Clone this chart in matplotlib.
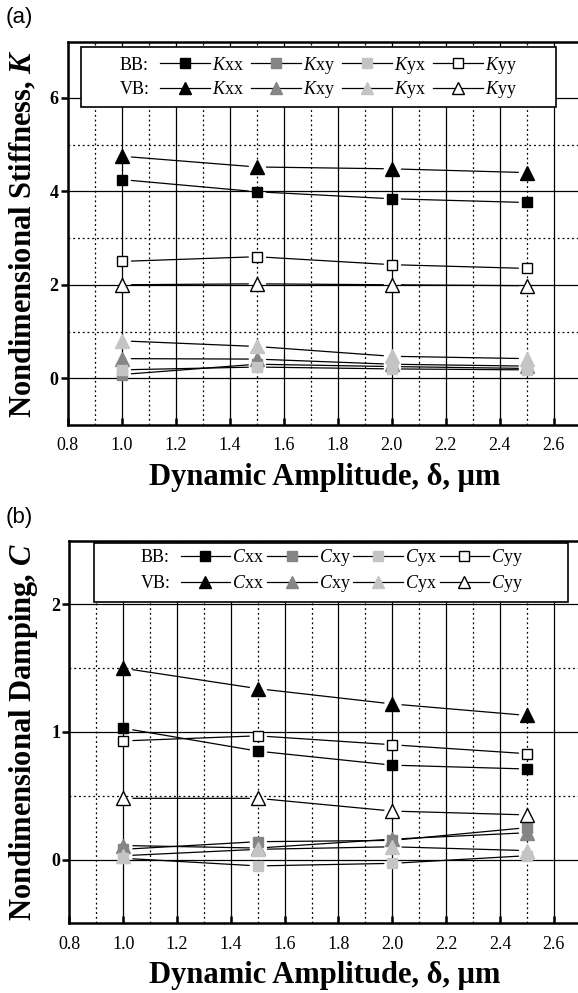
import matplotlib
matplotlib.use("Agg")
import matplotlib.pyplot as plt
from matplotlib.lines import Line2D
from matplotlib.legend import Legend
from matplotlib.patches import Rectangle
from matplotlib.ticker import MultipleLocator, FixedLocator, FormatStrFormatter

plt.rcParams['font.family'] = ['Liberation Serif', 'DejaVu Serif']
plt.rcParams['mathtext.fontset'] = 'custom'
plt.rcParams['mathtext.rm'] = 'Liberation Serif'
plt.rcParams['mathtext.it'] = 'Liberation Serif:italic'
plt.rcParams['mathtext.bf'] = 'Liberation Serif:bold:italic'

# ---------------- data ----------------
amplitude = [1.0, 1.5, 2.0, 2.5]

K_BB_xx = [4.25, 3.99, 3.84, 3.76]
K_BB_xy = [0.08, 0.30, 0.25, 0.21]
K_BB_yx = [0.18, 0.24, 0.20, 0.18]
K_BB_yy = [2.50, 2.60, 2.43, 2.35]
K_VB_xx = [4.75, 4.52, 4.48, 4.40]
K_VB_xy = [0.42, 0.41, 0.30, 0.26]
K_VB_yx = [0.80, 0.68, 0.47, 0.42]
K_VB_yy = [2.00, 2.02, 2.00, 1.98]

C_BB_xx = [1.03, 0.85, 0.74, 0.71]
C_BB_xy = [0.08, 0.14, 0.15, 0.25]
C_BB_yx = [0.01, -0.05, -0.03, 0.03]
C_BB_yy = [0.93, 0.97, 0.90, 0.83]
C_VB_xx = [1.50, 1.34, 1.22, 1.13]
C_VB_xy = [0.11, 0.09, 0.16, 0.21]
C_VB_yx = [0.03, 0.08, 0.10, 0.07]
C_VB_yy = [0.48, 0.48, 0.38, 0.35]

components = ['xx', 'xy', 'yx', 'yy']
bearings = ['BB:', 'VB:']
x_ticks = [0.8, 1.0, 1.2, 1.4, 1.6, 1.8, 2.0, 2.2, 2.4, 2.6]
K_yticks = [0, 2, 4, 6]
K_yminor = [1, 3, 5]
C_yticks = [0, 1, 2]
C_yminor = [0.5, 1.5]

# ---------------- style ----------------
face = {'xx': 'black', 'xy': '#858585', 'yx': '#c4c4c4', 'yy': 'white'}
edge = {'xx': 'black', 'xy': '#858585', 'yx': '#c4c4c4', 'yy': 'black'}
sq_ms = 7.5
tri_ms = 9.5
FS_LEG = 13

W, H = 578, 993
fig = plt.figure(figsize=(W / 100, H / 100), dpi=100)


class PxAxes:
    def __init__(self, left, top, right, bottom):
        self.l, self.t, self.r, self.b = left, top, right, bottom
        self.ax = fig.add_axes([left / W, 1 - bottom / H, (right - left) / W,
                                (bottom - top) / H])

    def fx(self, px):
        return (px - self.l) / (self.r - self.l)

    def fy(self, py):
        return (self.b - py) / (self.b - self.t)


pa = PxAxes(67.7, 41.7, 580.7, 425.0)
pb = PxAxes(69.3, 540.7, 580.7, 923.3)


def draw_series(ax, xs, ys, marker, comp, ms):
    for i in range(len(xs) - 1):
        ax.annotate('', xy=(xs[i + 1], ys[i + 1]), xytext=(xs[i], ys[i]),
                    xycoords='data', textcoords='data',
                    arrowprops=dict(arrowstyle='-', color='black', lw=0.9,
                                    shrinkA=7, shrinkB=6),
                    zorder=3)
    ax.plot(xs, ys, linestyle='none', marker=marker, ms=ms,
            mfc=face[comp], mec=edge[comp], mew=1.0, zorder=4, clip_on=False)


def style_axes(p, ylim, yticks, yminor, ylabel, xlab_y):
    ax = p.ax
    ax.set_xlim(0.8, 2.7)
    ax.set_ylim(*ylim)
    ax.xaxis.set_major_locator(FixedLocator(x_ticks))
    ax.xaxis.set_minor_locator(MultipleLocator(0.1))
    ax.xaxis.set_major_formatter(FormatStrFormatter('%.1f'))
    ax.yaxis.set_major_locator(FixedLocator(yticks))
    ax.yaxis.set_minor_locator(FixedLocator(yminor))
    ax.set_axisbelow(True)
    ax.grid(which='major', color='black', lw=0.9, ls='-')
    ax.grid(which='minor', color='black', lw=0.9, ls=(0, (1.5, 2.3)))
    ax.tick_params(axis='x', which='major', direction='in', length=5, width=1.8,
                   pad=9, labelsize=13)
    ax.tick_params(axis='y', which='major', direction='out', length=5, width=1.8,
                   pad=1.5, labelsize=13)
    ax.tick_params(which='minor', length=0)
    for lab in ax.get_yticklabels():
        lab.set_fontweight('bold')
    for sp in ax.spines.values():
        sp.set_linewidth(1.8)
    ax.set_xlabel('Dynamic Amplitude, δ, μm', fontsize=22, fontweight='bold')
    ax.xaxis.label.set_va('center')
    ax.xaxis.set_label_coords(0.5, p.fy(xlab_y))
    ax.set_ylabel(ylabel, fontsize=22, fontweight='bold')
    ax.yaxis.label.set_va('center')
    ax.yaxis.set_label_coords(p.fx(23), 0.5)


def legend_block(p, sym, box, tag_x, handle_x, rows_y, colspacing):
    ax = p.ax
    x0, y0, x1, y1 = box
    ax.add_patch(Rectangle((p.fx(x0), p.fy(y1)), p.fx(x1) - p.fx(x0),
                           p.fy(y0) - p.fy(y1), transform=ax.transAxes,
                           facecolor='white', edgecolor='black', lw=1.2,
                           zorder=10, clip_on=False))
    markers = ['s', '^']
    sizes = [7, 9]
    for r, (tag, ry) in enumerate(zip(bearings, rows_y)):
        ax.text(p.fx(tag_x), p.fy(ry), tag, transform=ax.transAxes,
                fontsize=FS_LEG, ha='left', va='center', zorder=12)
        handles, labels = [], []
        for comp in components:
            handles.append(Line2D([], [], color='black', lw=0.9, marker=markers[r],
                                  ms=sizes[r], mfc=face[comp], mec=edge[comp]))
            labels.append('$%s$%s' % (sym, comp))
        leg = Legend(ax, handles, labels, ncol=4, loc='center left',
                     bbox_to_anchor=(p.fx(handle_x), p.fy(ry)), frameon=False,
                     fontsize=FS_LEG, handlelength=2.75, handletextpad=0.12,
                     columnspacing=colspacing, borderpad=0, borderaxespad=0,
                     numpoints=1)
        leg.set_zorder(12)
        ax.add_artist(leg)


# ---------------- panel (a) ----------------
K_BB = {'xx': K_BB_xx, 'xy': K_BB_xy, 'yx': K_BB_yx, 'yy': K_BB_yy}
K_VB = {'xx': K_VB_xx, 'xy': K_VB_xy, 'yx': K_VB_yx, 'yy': K_VB_yy}
for comp in components:
    draw_series(pa.ax, amplitude, K_BB[comp], 's', comp, sq_ms)
    draw_series(pa.ax, amplitude, K_VB[comp], '^', comp, tri_ms)
style_axes(pa, (-1, 7.2), K_yticks, K_yminor,
           r'Nondimensional Stiffness, $\mathbf{K}$', 478)
legend_block(pa, 'K', (80.7, 47.3, 555.7, 106.7), 120, 160, (65, 90), 0.4)

# ---------------- panel (b) ----------------
C_BB = {'xx': C_BB_xx, 'xy': C_BB_xy, 'yx': C_BB_yx, 'yy': C_BB_yy}
C_VB = {'xx': C_VB_xx, 'xy': C_VB_xy, 'yx': C_VB_yx, 'yy': C_VB_yy}
for comp in components:
    draw_series(pb.ax, amplitude, C_BB[comp], 's', comp, sq_ms)
    draw_series(pb.ax, amplitude, C_VB[comp], '^', comp, tri_ms)
style_axes(pb, (-0.5, 2.5), C_yticks, C_yminor,
           r'Nondimensional Damping, $\mathbf{C}$', 976)
legend_block(pb, 'C', (94, 542.7, 567.6, 601.7), 141, 180.6, (558, 584), 0.15)

# panel tags
for tag, ty in (('(a)', 18), ('(b)', 517)):
    fig.text(6 / W, 1 - ty / H, tag, fontsize=16,
             family=['Liberation Sans', 'DejaVu Sans'], ha='left', va='center')

fig.savefig('out.png', dpi=100)
